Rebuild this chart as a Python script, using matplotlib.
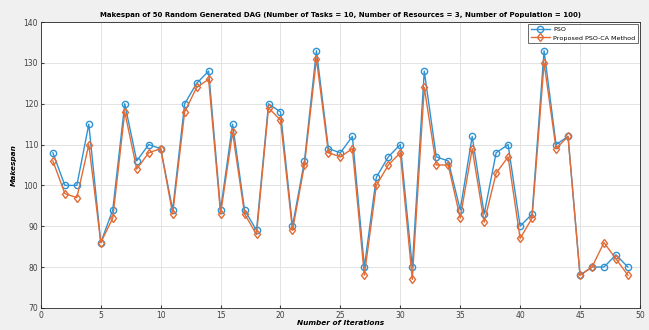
import numpy as np
import matplotlib.pyplot as plt

iterations = np.arange(1, 50)
pso = [108, 100, 100, 115, 86, 94, 120, 106, 110, 109,
       94, 120, 125, 128, 94, 115, 94, 89, 120, 118,
       90, 106, 133, 109, 108, 112, 80, 102, 107, 110,
       80, 128, 107, 106, 94, 112, 93, 108, 110, 90,
       93, 133, 110, 112, 78, 80, 80, 83, 80]
pso_ca = [106, 98, 97, 110, 86, 92, 118, 104, 108, 109,
          93, 118, 124, 126, 93, 113, 93, 88, 119, 116,
          89, 105, 131, 108, 107, 109, 78, 100, 105, 108,
          77, 124, 105, 105, 92, 109, 91, 103, 107, 87,
          92, 130, 109, 112, 78, 80, 86, 82, 78]

fig = plt.figure(figsize=(6.49, 3.30), dpi=100, facecolor='#f0f0f0')
ax = fig.add_axes([0.063, 0.067, 0.923, 0.866])

ax.plot(iterations, pso, '-o', color='#2f93d3', lw=1.0, ms=4.5,
        mfc='none', mew=1.0, label='PSO')
ax.plot(iterations, pso_ca, '-d', color='#e36b35', lw=1.0, ms=4.5,
        mfc='none', mew=1.0, label='Proposed PSO-CA Method')

ax.set_xlim(0, 50)
ax.set_ylim(70, 140)
ax.set_xticks(np.arange(0, 51, 5))
ax.set_yticks(np.arange(70, 141, 10))
ax.grid(True, color='#e3e3e3', lw=0.7)
ax.set_axisbelow(True)
ax.tick_params(labelsize=5.5, colors='#404040', length=2, direction='in', pad=2)
for s in ax.spines.values():
    s.set_color('#262626')
    s.set_linewidth(0.6)

ax.set_title('Makespan of 50 Random Generated DAG (Number of Tasks = 10, Number of Resources = 3, Number of Population = 100)',
             fontsize=5.0, fontweight='bold', pad=4)
ax.set_xlabel('Number of Iterations', fontsize=5.3, fontweight='bold', style='italic', labelpad=0)
ax.set_ylabel('Makespan', fontsize=5.3, fontweight='bold', style='italic', labelpad=5)

leg = ax.legend(loc='upper right', fontsize=4.6, frameon=True, fancybox=False,
                borderpad=0.4, handlelength=3.0, labelspacing=0.5, borderaxespad=0.3,
                handletextpad=0.5)
leg.get_frame().set_edgecolor('#262626')
leg.get_frame().set_linewidth(0.6)

fig.savefig('out.png', dpi=100, facecolor=fig.get_facecolor())
